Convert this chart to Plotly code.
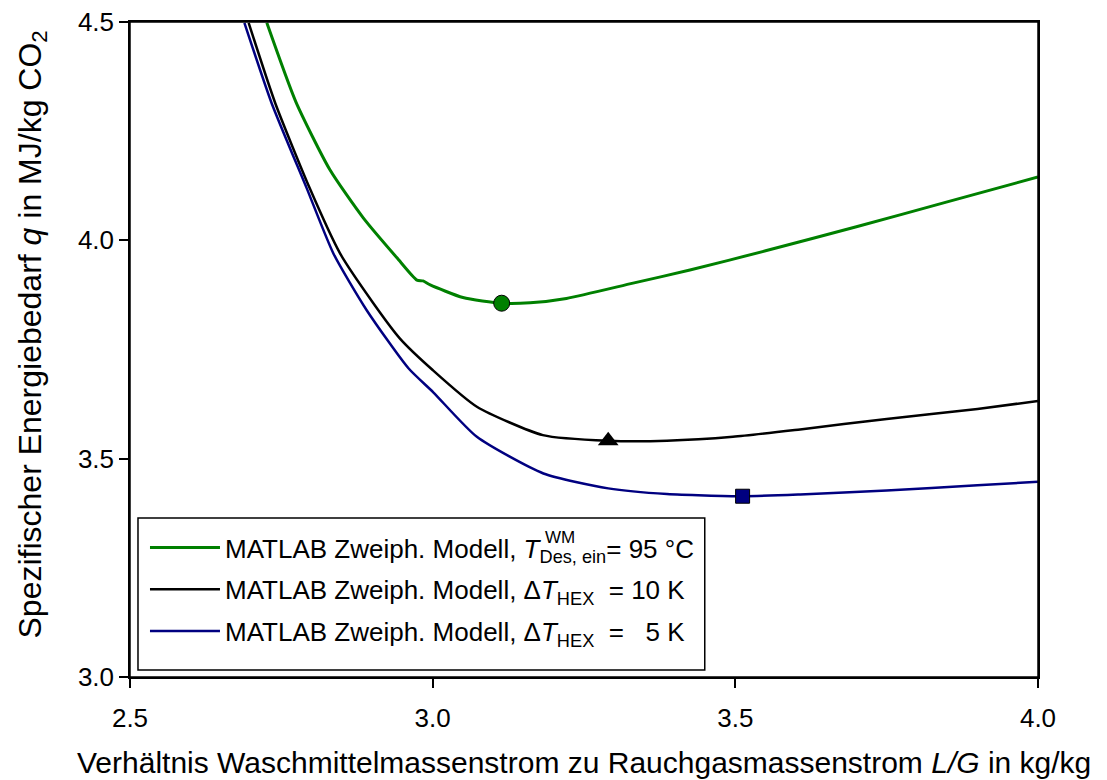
import plotly.graph_objects as go

# Data
lg_green = [2.726, 2.774, 2.830, 2.885, 2.941, 2.974, 2.984, 2.996, 3.050, 3.114, 3.161, 3.221, 3.331, 3.425, 3.55, 3.70, 3.85, 4.0]
q_green = [4.498, 4.317, 4.162, 4.052, 3.960, 3.909, 3.907, 3.898, 3.869, 3.856, 3.857, 3.867, 3.902, 3.932, 3.976, 4.031, 4.088, 4.145]

lg_black = [2.696, 2.740, 2.797, 2.847, 2.902, 2.946, 3.0, 3.073, 3.182, 3.290, 3.387, 3.496, 3.607, 3.75, 3.90, 4.0]
q_black = [4.498, 4.314, 4.119, 3.970, 3.856, 3.775, 3.703, 3.619, 3.554, 3.541, 3.541, 3.550, 3.567, 3.591, 3.614, 3.632]

lg_blue = [2.689, 2.734, 2.792, 2.836, 2.891, 2.960, 3.001, 3.073, 3.183, 3.290, 3.387, 3.512, 3.607, 3.75, 3.90, 4.0]
q_blue = [4.498, 4.314, 4.119, 3.970, 3.840, 3.707, 3.652, 3.550, 3.466, 3.432, 3.419, 3.414, 3.418, 3.427, 3.439, 3.447]

opt_x = [3.114, 3.290, 3.512]
opt_y = [3.856, 3.541, 3.414]

x_ticks = [2.5, 3.0, 3.5, 4.0]
y_ticks = [3.0, 3.5, 4.0, 4.5]

names = [
    "MATLAB Zweiph. Modell, <i>T</i><sub>Des, ein</sub>= 95 °C",
    "MATLAB Zweiph. Modell, Δ<i>T</i><sub>HEX</sub>  = 10 K",
    "MATLAB Zweiph. Modell, Δ<i>T</i><sub>HEX</sub>  =   5 K",
]
sup_label = "WM"
x_title = "Verhältnis Waschmittelmassenstrom zu Rauchgasmassenstrom <i>L/G</i> in kg/kg"
y_title = "Spezifischer Energiebedarf <i>q</i> in MJ/kg CO<sub>2</sub>"

colors = ["#008000", "#000000", "#000080"]
widths = [3, 2.5, 2.5]
symbols = ["circle", "triangle-up", "square"]
sizes = [16, 18, 14]

fig = go.Figure()
series = [(lg_green, q_green), (lg_black, q_black), (lg_blue, q_blue)]
for i, (xs, ys) in enumerate(series):
    fig.add_trace(go.Scatter(
        x=xs, y=ys, mode="lines", name=names[i],
        line=dict(color=colors[i], width=widths[i], shape="spline", smoothing=0.6),
        legendgroup=str(i),
    ))
for i in range(3):
    fig.add_trace(go.Scatter(
        x=[opt_x[i]], y=[opt_y[i]], mode="markers", showlegend=False,
        marker=dict(symbol=symbols[i], size=sizes[i], color=colors[i],
                    line=dict(color="black", width=1 if i != 1 else 0)),
    ))

font = "Liberation Sans, Arial, sans-serif"
fig.update_layout(
    width=1107, height=780,
    margin=dict(l=122, r=77, t=14, b=111),
    paper_bgcolor="white", plot_bgcolor="white",
    font=dict(family=font, color="black", size=26),
    showlegend=True,
    legend=dict(
        x=0.0165, y=0.2336, xanchor="left", yanchor="top",
        borderwidth=0, bgcolor="rgba(0,0,0,0)",
        font=dict(size=26, family=font), tracegroupgap=5,
        traceorder="grouped", itemwidth=70,
    ),
    shapes=[
        dict(type="rect", xref="paper", yref="paper",
             x0=0.0088, x1=0.633, y0=0.0107, y1=0.2427,
             line=dict(color="black", width=1.5), fillcolor="white", layer="below"),
        dict(type="rect", xref="paper", yref="paper", x0=0, x1=1, y0=0, y1=1,
             line=dict(color="black", width=1.5), layer="above"),
    ],
    annotations=[
        dict(text=x_title, xref="paper", yref="paper", x=0.5, y=0, xanchor="center",
             yanchor="middle", yshift=-85, showarrow=False, font=dict(size=30)),
        dict(text=y_title, xref="paper", yref="paper", x=0, y=0.5, xanchor="center",
             yanchor="middle", xshift=-98, yshift=15, textangle=-90, showarrow=False,
             font=dict(size=32)),
        dict(text=sup_label, xref="paper", yref="paper", x=0.4548, y=0.2076,
             xanchor="left", yanchor="middle", yshift=4, showarrow=False,
             font=dict(size=17)),
    ],
    xaxis=dict(
        range=[2.5, 4.0], tickvals=x_ticks, ticktext=[f"{v:.1f}" for v in x_ticks],
        showgrid=False, zeroline=False, showline=True, linecolor="black", linewidth=1.5,
        mirror=True, ticks="outside", ticklen=9, tickwidth=1.5, tickcolor="black",
        tickfont=dict(size=26), ticklabelstandoff=8, automargin=False,
        ticklabeloverflow="allow",
    ),
    yaxis=dict(
        range=[3.0, 4.5], tickvals=y_ticks, ticktext=[f"{v:.1f}" for v in y_ticks],
        showgrid=False, zeroline=False, showline=True, linecolor="black", linewidth=1.5,
        mirror=True, ticks="outside", ticklen=9, tickwidth=1.5, tickcolor="black",
        tickfont=dict(size=26), automargin=False, ticklabeloverflow="allow",
    ),
)

fig.write_html("out.html")
